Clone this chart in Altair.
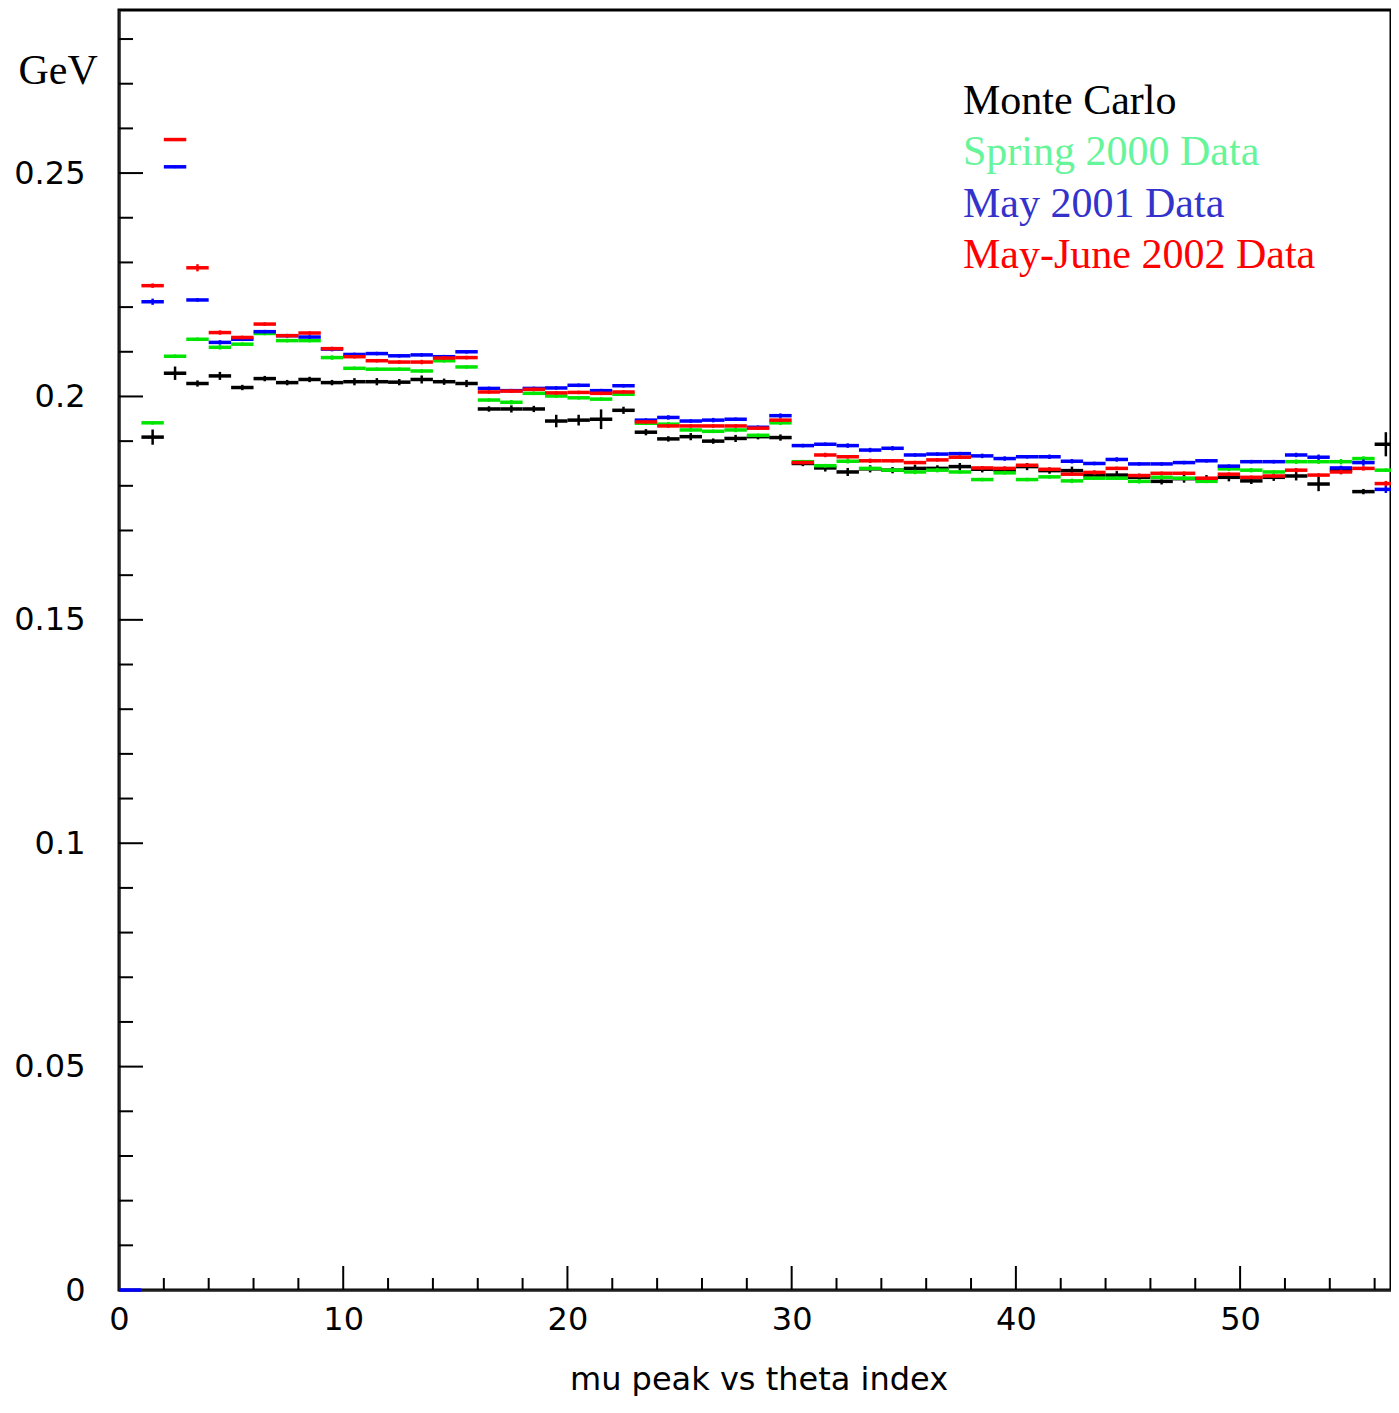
import altair as alt
import pandas as pd

# ---------------- data (bin index 0..56, bin width 1) ----------------
series_names = ["Monte Carlo", "Spring 2000 Data", "May 2001 Data", "May-June 2002 Data"]
series_colors = ["#000000", "#00e600", "#0000ff", "#ff0000"]
legend_colors = ["#000000", "#66f59a", "#3333cc", "#ff0000"]

mc_val = [None,
          0.1909, 0.2052, 0.2029, 0.2046, 0.2020, 0.2040, 0.2031, 0.2038, 0.2031, 0.2033,
          0.2033, 0.2032, 0.2038, 0.2033, 0.2029, 0.1972, 0.1972, 0.1972, 0.1945, 0.1947,
          0.1949, 0.1969, 0.1920, 0.1905, 0.1910, 0.1900, 0.1906, 0.1910, 0.1908, 0.1850,
          0.1840, 0.1831, 0.1838, 0.1835, 0.1839, 0.1839, 0.1843, 0.1837, 0.1835, 0.1843,
          0.1834, 0.1834, 0.1824, 0.1824, 0.1819, 0.1810, 0.1816, 0.1816, 0.1819, 0.1811,
          0.1819, 0.1822, 0.1804, 0.1835, 0.1787, 0.1893]
mc_err = [None,
          0.0017, 0.0015, 0.0007, 0.0009, 0.0006, 0.0006, 0.0006, 0.0006, 0.0006, 0.0008,
          0.0008, 0.0007, 0.0009, 0.0007, 0.0008, 0.0006, 0.0008, 0.0007, 0.0014, 0.0012,
          0.0022, 0.0008, 0.0007, 0.0006, 0.0008, 0.0006, 0.0008, 0.0006, 0.0007, 0.0006,
          0.0008, 0.0009, 0.0008, 0.0007, 0.0008, 0.0007, 0.0008, 0.0007, 0.0008, 0.0008,
          0.0007, 0.0009, 0.0008, 0.0009, 0.0008, 0.0007, 0.0009, 0.0008, 0.0009, 0.0007,
          0.0008, 0.0010, 0.0016, 0.0009, 0.0006, 0.0027]

sp00_val = [None,
            0.1941, 0.2090, 0.2128, 0.2110, 0.2117, 0.2141, 0.2125, 0.2125, 0.2087, 0.2063,
            0.2061, 0.2061, 0.2057, 0.2080, 0.2066, 0.1992, 0.1987, 0.2007, 0.2001, 0.1997,
            0.1994, 0.2005, 0.1940, 0.1938, 0.1925, 0.1922, 0.1925, 0.1913, 0.1941, 0.1854,
            0.1845, 0.1855, 0.1839, 0.1835, 0.1831, 0.1835, 0.1831, 0.1814, 0.1829, 0.1814,
            0.1820, 0.1811, 0.1817, 0.1817, 0.1810, 0.1819, 0.1817, 0.1810, 0.1838, 0.1835,
            0.1831, 0.1854, 0.1854, 0.1854, 0.1861, 0.1835]
sp00_err = [None,
            0.0004, 0.0004, 0.0004, 0.0005, 0.0004, 0.0004, 0.0004, 0.0004, 0.0005, 0.0004,
            0.0004, 0.0004, 0.0004, 0.0004, 0.0004, 0.0004, 0.0005, 0.0004, 0.0004, 0.0004,
            0.0004, 0.0004, 0.0004, 0.0005, 0.0004, 0.0004, 0.0005, 0.0004, 0.0005, 0.0004,
            0.0004, 0.0005, 0.0005, 0.0004, 0.0005, 0.0005, 0.0004, 0.0004, 0.0004, 0.0004,
            0.0004, 0.0005, 0.0004, 0.0004, 0.0005, 0.0005, 0.0005, 0.0004, 0.0005, 0.0005,
            0.0004, 0.0005, 0.0005, 0.0006, 0.0005, 0.0004]

may01_val = [0.0,
             0.2212, 0.2514, 0.2216, 0.2121, 0.2128, 0.2145, 0.2136, 0.2133, 0.2106, 0.2094,
             0.2096, 0.2091, 0.2093, 0.2089, 0.2100, 0.2018, 0.2013, 0.2018, 0.2019, 0.2025,
             0.2013, 0.2024, 0.1947, 0.1953, 0.1945, 0.1947, 0.1949, 0.1931, 0.1957, 0.1890,
             0.1893, 0.1890, 0.1880, 0.1884, 0.1869, 0.1871, 0.1872, 0.1867, 0.1861, 0.1865,
             0.1865, 0.1855, 0.1850, 0.1859, 0.1849, 0.1849, 0.1852, 0.1856, 0.1844, 0.1854,
             0.1854, 0.1869, 0.1864, 0.1840, 0.1852, 0.1792]
may01_err = [0.0,
             0.0007, 0.0003, 0.0004, 0.0005, 0.0004, 0.0004, 0.0004, 0.0004, 0.0005, 0.0004,
             0.0004, 0.0004, 0.0004, 0.0004, 0.0004, 0.0004, 0.0004, 0.0004, 0.0004, 0.0004,
             0.0004, 0.0004, 0.0004, 0.0005, 0.0004, 0.0005, 0.0004, 0.0004, 0.0005, 0.0004,
             0.0004, 0.0005, 0.0005, 0.0005, 0.0004, 0.0004, 0.0004, 0.0005, 0.0005, 0.0004,
             0.0005, 0.0005, 0.0004, 0.0005, 0.0004, 0.0004, 0.0004, 0.0004, 0.0004, 0.0004,
             0.0004, 0.0005, 0.0006, 0.0005, 0.0007, 0.0008]

mj02_val = [None,
            0.2248, 0.2575, 0.2288, 0.2143, 0.2132, 0.2162, 0.2136, 0.2142, 0.2107, 0.2089,
            0.2080, 0.2077, 0.2077, 0.2086, 0.2087, 0.2010, 0.2012, 0.2016, 0.2008, 0.2009,
            0.2007, 0.2010, 0.1943, 0.1934, 0.1934, 0.1934, 0.1934, 0.1929, 0.1947, 0.1852,
            0.1869, 0.1865, 0.1856, 0.1856, 0.1852, 0.1858, 0.1864, 0.1840, 0.1839, 0.1846,
            0.1837, 0.1826, 0.1830, 0.1839, 0.1823, 0.1828, 0.1828, 0.1817, 0.1826, 0.1819,
            0.1822, 0.1835, 0.1824, 0.1831, 0.1839, 0.1805]
mj02_err = [None,
            0.0005, 0.0003, 0.0008, 0.0005, 0.0004, 0.0004, 0.0004, 0.0004, 0.0004, 0.0004,
            0.0004, 0.0004, 0.0005, 0.0004, 0.0004, 0.0004, 0.0004, 0.0004, 0.0004, 0.0004,
            0.0004, 0.0004, 0.0004, 0.0004, 0.0004, 0.0004, 0.0004, 0.0004, 0.0004, 0.0004,
            0.0005, 0.0004, 0.0005, 0.0004, 0.0004, 0.0004, 0.0004, 0.0004, 0.0004, 0.0004,
            0.0004, 0.0004, 0.0005, 0.0004, 0.0004, 0.0004, 0.0004, 0.0004, 0.0004, 0.0004,
            0.0004, 0.0005, 0.0004, 0.0005, 0.0005, 0.0006]

x_label_values = [0, 10, 20, 30, 40, 50]
x_minor_ticks = [2, 4, 6, 8, 12, 14, 16, 18, 22, 24, 26, 28, 32, 34, 36, 38,
                 42, 44, 46, 48, 52, 54, 56]
x_major_ticks = [10, 20, 30, 40, 50]
y_label_values = [0, 0.05, 0.1, 0.15, 0.2, 0.25]
y_major_ticks = [0.05, 0.1, 0.15, 0.2, 0.25]
y_minor_ticks = [0.01, 0.02, 0.03, 0.04, 0.06, 0.07, 0.08, 0.09, 0.11, 0.12, 0.13, 0.14,
                 0.16, 0.17, 0.18, 0.19, 0.21, 0.22, 0.23, 0.24, 0.26, 0.27, 0.28]

x_domain = [0, 56.73]
y_domain = [0, 0.2865]

# ---------------- build table ----------------
all_vals = [mc_val, sp00_val, may01_val, mj02_val]
all_errs = [mc_err, sp00_err, may01_err, mj02_err]
rows = []
for name, vals, errs in zip(series_names, all_vals, all_errs):
    for i, (v, e) in enumerate(zip(vals, errs)):
        if v is None:
            continue
        rows.append({"series": name, "lo": i, "hi": i + 1, "mid": i + 0.5,
                     "val": v, "elo": v - e, "ehi": v + e})
df = pd.DataFrame(rows)

W, H = 1272, 1280
xs = alt.Scale(domain=x_domain, nice=False, zero=False)
ys = alt.Scale(domain=y_domain, nice=False, zero=False)
cscale = alt.Scale(domain=series_names, range=series_colors)

x_axis = alt.Axis(values=x_label_values, format="d", ticks=False, tickSize=0,
                  grid=False, domain=True, domainColor="#222222", domainWidth=2,
                  labelFont="DejaVu Sans", labelFontSize=32, labelColor="#000000",
                  labelPadding=14, labelFlush=False,
                  title="mu peak vs theta index", titleFont="DejaVu Sans",
                  titleFontSize=32, titleFontWeight="normal", titleColor="#000000",
                  titleX=639.5, titleY=99, titleBaseline="alphabetic", titleAnchor="middle")
y_axis = alt.Axis(values=y_label_values, format="~g", ticks=False, tickSize=0,
                  grid=False, domain=True, domainColor="#222222", domainWidth=2,
                  labelFont="DejaVu Sans", labelFontSize=32, labelColor="#000000",
                  labelPadding=34, labelFlush=False,
                  title="GeV", titleAngle=0, titleFont="Liberation Serif", titleFontSize=42,
                  titleFontWeight="normal", titleColor="#000000", titleX=-101, titleY=73,
                  titleAlign="left", titleBaseline="alphabetic")

layers = []
for k, name in enumerate(series_names):
    sub = alt.Chart(df).transform_filter(alt.datum.series == name)
    if k == 0:
        h = sub.mark_rule(strokeWidth=3.5).encode(
            x=alt.X("lo:Q", scale=xs, axis=x_axis), x2="hi:Q",
            y=alt.Y("val:Q", scale=ys, axis=y_axis),
            color=alt.Color("series:N", scale=cscale, legend=None))
    else:
        h = sub.mark_rule(strokeWidth=3.5).encode(
            x=alt.X("lo:Q", scale=xs), x2="hi:Q",
            y=alt.Y("val:Q", scale=ys),
            color=alt.Color("series:N", scale=cscale, legend=None))
    v = sub.mark_rule(strokeWidth=2.5).encode(
        x=alt.X("mid:Q", scale=xs), y=alt.Y("elo:Q", scale=ys), y2="ehi:Q",
        color=alt.Color("series:N", scale=cscale, legend=None))
    layers += [h, v]

# inward-pointing ticks (PAW style)
ymaj = alt.Chart(pd.DataFrame({"v": y_major_ticks})).mark_rule(color="#000000", strokeWidth=2).encode(
    y=alt.Y("v:Q", scale=ys), x=alt.value(0), x2=alt.value(24))
ymin = alt.Chart(pd.DataFrame({"v": y_minor_ticks})).mark_rule(color="#000000", strokeWidth=2).encode(
    y=alt.Y("v:Q", scale=ys), x=alt.value(0), x2=alt.value(14))
xmaj = alt.Chart(pd.DataFrame({"v": x_major_ticks})).mark_rule(color="#000000", strokeWidth=2).encode(
    x=alt.X("v:Q", scale=xs), y=alt.value(H), y2=alt.value(H - 24))
xmin = alt.Chart(pd.DataFrame({"v": x_minor_ticks})).mark_rule(color="#000000", strokeWidth=2).encode(
    x=alt.X("v:Q", scale=xs), y=alt.value(H), y2=alt.value(H - 12))

# legend text
legend_y = [103.5, 155, 206.5, 258]
texts = []
for name, col, yy in zip(series_names, legend_colors, legend_y):
    texts.append(alt.Chart(pd.DataFrame({"t": [name]})).mark_text(
        align="left", baseline="alphabetic", font="Liberation Serif", fontSize=42,
        color=col).encode(text="t:N", x=alt.value(844), y=alt.value(yy)))

chart = alt.layer(*layers, ymaj, ymin, xmaj, xmin, *texts).properties(
    width=W, height=H, autosize=alt.AutoSizeParams(type="none"),
    padding={"left": 111, "top": 2, "right": 0, "bottom": 106},
    background="white",
).configure_view(stroke="#000000", strokeWidth=3)

chart.save("out.html", embed_options={"renderer": "svg", "actions": False})
